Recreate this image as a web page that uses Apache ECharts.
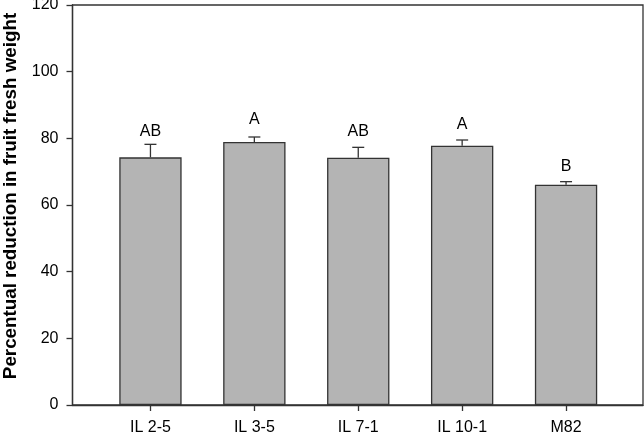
<!DOCTYPE html>
<html>
<head>
<meta charset="utf-8">
<script src="https://cdn.jsdelivr.net/npm/echarts@6/dist/echarts.min.js"></script>
<style>html,body{margin:0;padding:0;background:#fff}#c{width:644px;height:434px}</style>
</head>
<body>
<div id="c"></div>
<script>
var categories = ['IL 2-5', 'IL 3-5', 'IL 7-1', 'IL 10-1', 'M82'];
var means = [74.3, 78.9, 74.2, 77.8, 66.1];
var errTops = [78.2, 80.4, 77.3, 79.5, 67.0];
var letters = ['AB', 'A', 'AB', 'A', 'B'];
var letterPos = [82.0, 85.7, 82.0, 84.2, 71.5];
var yTicks = [0, 20, 40, 60, 80, 100, 120];
var yTitle = 'Percentual reduction in fruit fresh weight';

var chart = echarts.init(document.getElementById('c'), null, {renderer: 'canvas'});
var axisCol = '#333';
var font = 'Liberation Sans, Arial, sans-serif';

var errData = categories.map(function (c, i) { return [i, means[i], errTops[i], letters[i], letterPos[i]]; });

chart.setOption({
  animation: false,
  backgroundColor: '#fff',
  grid: [
    {left: 72.5, right: 1, top: 5, bottom: 29, show: true, borderColor: axisCol, borderWidth: 1.3, backgroundColor: 'transparent', containLabel: false, outerBoundsMode: 'none'},
    {left: 98.5, width: 519.5, top: 5, bottom: 29, containLabel: false, outerBoundsMode: 'none'}
  ],
  graphic: [
    {type: 'text', x: 10.5, y: 196, rotation: Math.PI / 2,
     style: {text: yTitle, fill: '#000', font: 'bold 18.8px ' + font, align: 'center', verticalAlign: 'middle'}}
  ],
  xAxis: [
    {gridIndex: 0, type: 'value', min: 0, max: 1, axisLine: {show: true, lineStyle: {color: axisCol, width: 1.3}},
     axisTick: {show: false}, axisLabel: {show: false}, splitLine: {show: false}},
    {gridIndex: 1, type: 'category', data: categories, boundaryGap: true,
     axisLine: {show: false}, axisTick: {show: true, alignWithLabel: true, length: 6, lineStyle: {color: axisCol, width: 1.3}},
     axisLabel: {color: '#000', fontSize: 16, fontFamily: font, margin: 15}}
  ],
  yAxis: [
    {gridIndex: 0, type: 'value', min: 0, max: 120, interval: 20,
     axisLine: {show: true, lineStyle: {color: axisCol, width: 1.3}},
     axisTick: {show: true, length: 6, lineStyle: {color: axisCol, width: 1.3}},
     axisLabel: {color: '#000', fontSize: 16, fontFamily: font, margin: 14,
       formatter: function (v) { return yTicks.indexOf(v) >= 0 ? String(v) : ''; }},
     splitLine: {show: false}},
    {gridIndex: 1, type: 'value', min: 0, max: 120, show: false}
  ],
  series: [
    {type: 'bar', xAxisIndex: 1, yAxisIndex: 1, data: means, barWidth: '60%',
     itemStyle: {color: '#b4b4b4', borderColor: axisCol, borderWidth: 1.3}},
    {type: 'custom', xAxisIndex: 1, yAxisIndex: 1, data: errData, z: 5,
     renderItem: function (params, api) {
       var i = api.value(0);
       var base = api.coord([i, api.value(1)]);
       var top = api.coord([i, api.value(2)]);
       var lab = api.coord([i, api.value(4)]);
       var capW = 6;
       return {type: 'group', children: [
         {type: 'line', shape: {x1: base[0], y1: base[1], x2: top[0], y2: top[1]}, style: {stroke: axisCol, lineWidth: 1.3}},
         {type: 'line', shape: {x1: top[0] - capW, y1: top[1], x2: top[0] + capW, y2: top[1]}, style: {stroke: axisCol, lineWidth: 1.3}},
         {type: 'text', x: lab[0], y: lab[1], style: {text: letters[params.dataIndex], fill: '#000', font: '16px ' + font, align: 'center', verticalAlign: 'middle'}}
       ]};
     }}
  ]
});
</script>
</body>
</html>
